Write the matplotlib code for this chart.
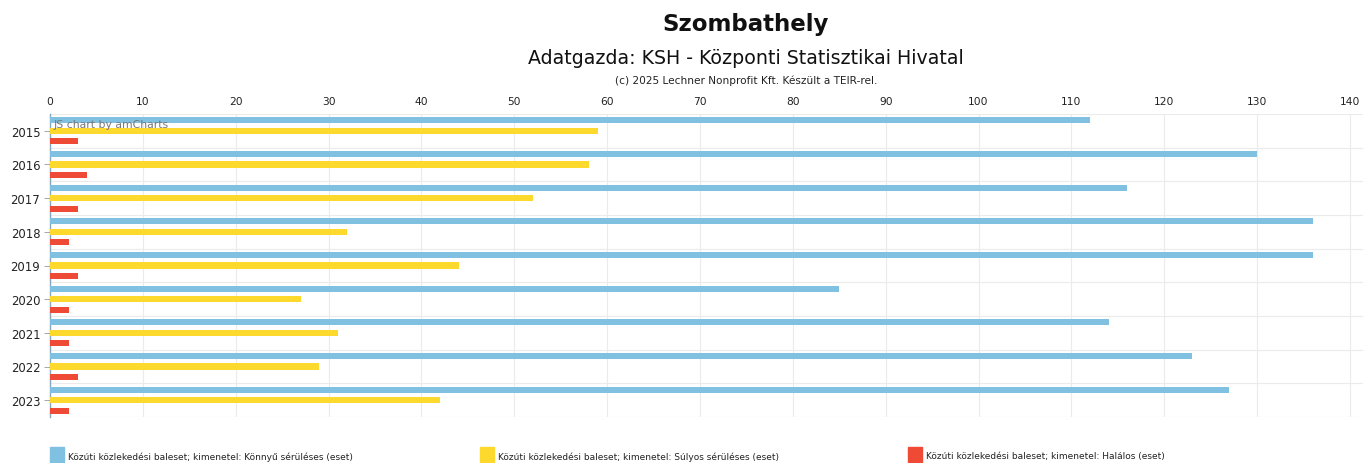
import numpy as np
import matplotlib
matplotlib.use('Agg')
import matplotlib.pyplot as plt
from matplotlib.patches import Rectangle

years = ['2015', '2016', '2017', '2018', '2019', '2020', '2021', '2022', '2023']
konnyu = [112, 130, 116, 136, 136, 85, 114, 123, 127]
sulyos = [59, 58, 52, 32, 44, 27, 31, 29, 42]
halalos = [3, 4, 3, 2, 3, 2, 2, 3, 2]

series_names = [
    'Közúti közlekedési baleset; kimenetel: Könnyű sérüléses (eset)',
    'Közúti közlekedési baleset; kimenetel: Súlyos sérüléses (eset)',
    'Közúti közlekedési baleset; kimenetel: Halálos (eset)',
]
colors = ['#80c1e1', '#fdd92e', '#ef4a36']

plt.rcParams['font.family'] = ['DejaVu Sans']

fig = plt.figure(figsize=(13.63, 4.64), dpi=100)
ax = fig.add_axes([50 / 1363, 1 - 418 / 464, 1313 / 1363, 303 / 464])

y = np.arange(len(years))
offset = 0.31
h = 0.18
for vals, off, c in zip([konnyu, sulyos, halalos], [-offset, 0, offset], colors):
    ax.barh(y + off, vals, height=h, color=c, zorder=3)

ax.set_xlim(0, 141.4)
ax.set_ylim(len(years) - 0.5, -0.5)

# value axis on top
ax.xaxis.tick_top()
ax.set_xticks(np.arange(0, 141, 10))
ax.tick_params(axis='x', length=0, labelsize=7.7, colors='#222222', pad=6)
ax.set_yticks(y)
ax.set_yticklabels(years)
ax.tick_params(axis='y', length=4, width=0.6, color='#999999', labelsize=8.4,
               labelcolor='#222222', pad=3)

# grid lines
for xv in np.arange(10, 141, 10):
    ax.axvline(xv, color='#ebebeb', lw=0.8, zorder=1)
for yv in np.arange(-0.5, len(years), 1):
    ax.axhline(yv, color='#ebebeb', lw=0.8, zorder=1)

for side in ['top', 'right', 'bottom']:
    ax.spines[side].set_visible(False)
ax.spines['left'].set_color('#8aa4b8')
ax.spines['left'].set_linewidth(1.0)

ax.text(0.003, 0.985, 'JS chart by amCharts', transform=ax.transAxes,
        fontsize=7.8, color='#777777', va='top', ha='left', zorder=5)

# titles
fig.text(746 / 1363, 1 - 25 / 464, 'Szombathely', ha='center', va='center',
         fontsize=16.5, fontweight='bold', color='#111111')
fig.text(746 / 1363, 1 - 58 / 464, 'Adatgazda: KSH - Központi Statisztikai Hivatal',
         ha='center', va='center', fontsize=13.7, color='#111111')
fig.text(746 / 1363, 1 - 81 / 464, '(c) 2025 Lechner Nonprofit Kft. Készült a TEIR-rel.',
         ha='center', va='center', fontsize=7.6, color='#222222')

# legend along the bottom
leg_x = [50, 480, 908]
for lx, name, c in zip(leg_x, series_names, colors):
    fig.patches.append(Rectangle((lx / 1363, 1 / 464), 14 / 1363, 15 / 464,
                                 transform=fig.transFigure, color=c, figure=fig))
    fig.text((lx + 18) / 1363, 1 - 457 / 464, name, ha='left', va='center',
             fontsize=6.5, color='#222222')

fig.savefig('out.png', dpi=100)
